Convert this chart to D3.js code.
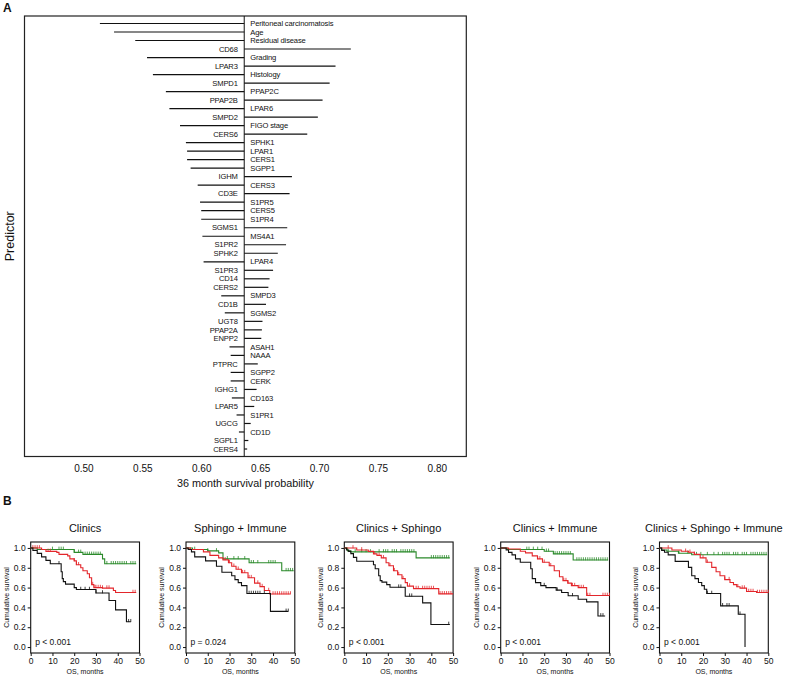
<!DOCTYPE html>
<html><head><meta charset="utf-8">
<script src="https://cdn.jsdelivr.net/npm/d3@7"></script>
<style>
body{margin:0;background:#fff;}
svg text{font-family:"Liberation Sans",Arial,Helvetica,sans-serif;fill:#111;}
</style></head><body>
<svg id="c" width="785" height="676"></svg>
<script>
// ---------- Panel A data ----------
const predictors = ["Peritoneal carcinomatosis","Age","Residual disease","CD68","Grading","LPAR3","Histology","SMPD1","PPAP2C","PPAP2B","LPAR6","SMPD2","FIGO stage","CERS6","SPHK1","LPAR1","CERS1","SGPP1","IGHM","CERS3","CD3E","S1PR5","CERS5","S1PR4","SGMS1","MS4A1","S1PR2","SPHK2","LPAR4","S1PR3","CD14","CERS2","SMPD3","CD1B","SGMS2","UGT8","PPAP2A","ENPP2","ASAH1","NAAA","PTPRC","SGPP2","CERK","IGHG1","CD163","LPAR5","S1PR1","UGCG","CD1D","SGPL1","CERS4"];
const survProb = [0.514,0.526,0.544,0.727,0.554,0.714,0.559,0.709,0.570,0.703,0.573,0.699,0.582,0.690,0.587,0.588,0.588,0.591,0.677,0.597,0.675,0.599,0.600,0.600,0.673,0.601,0.672,0.665,0.602,0.661,0.658,0.657,0.617,0.655,0.620,0.652,0.6515,0.651,0.624,0.625,0.648,0.625,0.625,0.647,0.626,0.645,0.630,0.642,0.632,0.640,0.639];
const baselineProb = 0.6365;
const xTicksA = [0.50,0.55,0.60,0.65,0.70,0.75,0.80];

// ---------- Panel B data ----------
const kmTitles = ["Clinics","Sphingo + Immune","Clinics + Sphingo","Clinics + Immune","Clinics + Sphingo + Immune"];
const pTexts = ["p < 0.001","p = 0.024","p < 0.001","p < 0.001","p < 0.001"];
const kmYTicks = [0,0.2,0.4,0.6,0.8,1.0];
const kmXTicks = [0,10,20,30,40,50];

// steps: [month, survival]; followEnd: last follow-up month; censored months
const green1 = [[0,1],[3,0.985],[20,0.955],[24,0.935],[33,0.89],[34,0.84]];
const green1End = 48.5;
const green1Cens = [10,13,14,15,20,22,23,25,26,27,28,29,30,31,32,35,37,38,39,40,41,42,43,44,46,47,48];
const red1 = [[0,1],[5,0.985],[7,0.965],[12,0.955],[13,0.935],[17,0.92],[18,0.89],[20,0.87],[21,0.83],[23,0.80],[24,0.77],[26,0.74],[27,0.70],[28,0.63],[29,0.60],[33,0.595],[38,0.57],[39,0.55]];
const red1End = 48.5;
const red1Cens = [1,2,3,4,8,9,20,21,22,28.5,29.5,30,31,32,33,35,36,47,48];
const black1 = [[0,1],[1,0.975],[3,0.945],[5,0.91],[7,0.875],[9,0.84],[14,0.76],[14.5,0.69],[15,0.66],[16,0.635],[20,0.60],[21,0.58],[30,0.545],[36,0.47],[39,0.375],[44,0.255]];
const black1End = 46;
const black1Cens = [13,23,25,27,30,33,45,46];

const green2 = [[0,1],[3,0.985],[10,0.97],[15,0.95],[17,0.89],[29,0.85],[44,0.77]];
const green2End = 49.5;
const green2Cens = [4,10,14,19,22,24,27,30,31,33,38,39,40,41,46,47,48,49];
const red2 = [[0,1],[2,0.985],[8,0.96],[11,0.925],[15,0.90],[17,0.88],[19.5,0.85],[21,0.815],[23,0.785],[25.5,0.75],[28.5,0.70],[31.5,0.645],[34,0.61],[36,0.57],[38.5,0.535]];
const red2End = 48;
const red2Cens = [18,20,22,24,26,27,29,30,33,35,38,40,41,42,43,44,45,46,47,48];
const black2 = [[0,1],[1,0.985],[2.5,0.96],[4,0.91],[9,0.87],[14,0.815],[16.5,0.755],[21,0.72],[22.5,0.68],[24,0.65],[25.5,0.62],[28,0.54],[38.8,0.36]];
const black2End = 47;
const black2Cens = [29,30,31,32,33,34,36,46,47];

const green3 = [[0,1],[1.5,0.97],[3,0.96],[33,0.90]];
const green3End = 48.5;
const green3Cens = [5,8,10,12,16,18,19,20,22,23,24,26,27,28,29,30,31,32,40,41,42,43,44,45,46,47,48];
const red3 = [[0,1],[5.7,0.98],[11,0.965],[13.4,0.94],[15,0.925],[17,0.90],[19.2,0.85],[20.5,0.82],[22.6,0.77],[24.5,0.73],[26.5,0.69],[28,0.65],[29,0.615],[31.8,0.59],[43.4,0.537]];
const red3End = 50;
const red3Cens = [4,8,14,16,18,21,23,25,27,30,33,34,36,37,38,39,40,41,44,45,46,47,48,49];
const black3 = [[0,1],[1,0.98],[2,0.965],[3,0.943],[4.2,0.905],[5.7,0.866],[13.4,0.83],[14.2,0.79],[15.8,0.72],[16.5,0.67],[17.3,0.655],[19.5,0.63],[21,0.604],[28,0.513],[36,0.446],[39.8,0.228]];
const black3End = 48.5;
const black3Cens = [25,26,30,31,48];

const green4 = [[0,1],[3,0.985],[20,0.966],[24.2,0.94],[33.3,0.878]];
const green4End = 49.4;
const green4Cens = [12,13,15,17,19,21,22,25,26,27,28,29,30,31,32,35,36,37,38,39,40,41,42,43,44,45,46,47,48,49];
const red4 = [[0,1],[3.6,0.99],[9,0.966],[11.4,0.95],[14.5,0.92],[16.9,0.89],[19.2,0.855],[22.3,0.82],[24.6,0.77],[27,0.71],[28.6,0.67],[30.8,0.645],[32.5,0.62],[35.6,0.60],[39.5,0.52]];
const red4End = 50;
const red4Cens = [17,18,20,23,29,30,31,33,34,36,37,38,40,41,47,48,49,50];
const black4 = [[0,1],[2.5,0.98],[3.6,0.955],[5.2,0.93],[6.8,0.89],[9,0.855],[13.8,0.79],[14.5,0.69],[16,0.65],[18.4,0.62],[20.8,0.60],[25.5,0.574],[28,0.55],[31,0.517],[35.6,0.483],[39.5,0.456],[44.7,0.314]];
const black4End = 48;
const black4Cens = [20,26,33,46,47];

const green5 = [[0,1],[1,0.98],[3.4,0.966],[8.7,0.946],[14.8,0.932]];
const green5End = 49.5;
const green5Cens = [4,9,13,17,19,22,25,27,29,30,31,32,34,35,36,38,39,40,42,43,44,45,46,47,48,49];
const red5 = [[0,1],[5.7,0.98],[10,0.966],[13.3,0.956],[16,0.935],[18.7,0.90],[21.4,0.855],[24,0.804],[26,0.76],[27.8,0.72],[30,0.68],[32.4,0.652],[34,0.63],[35.5,0.608],[37,0.595],[40,0.56],[44.6,0.55]];
const red5End = 50;
const red5Cens = [4,12,14,16,20,22,30,32,36,38,39,40,41,42,43,45,46,47,48,49,50];
const black5 = [[0,1],[1,0.975],[2.3,0.956],[4,0.93],[7.2,0.865],[13.3,0.804],[14.8,0.72],[16.3,0.69],[17.9,0.652],[19.4,0.62],[20.6,0.584],[21.7,0.54],[28.1,0.416],[36.2,0.331],[39.3,0]];
const black5End = 39.3;
const black5Cens = [22,24,29,31,32,37];

const kmColors = {green:"#2b8a2b", red:"#e3262b", black:"#111111"};

const kmPlots = [
  [{c:"green",s:green1,e:green1End,k:green1Cens},{c:"red",s:red1,e:red1End,k:red1Cens},{c:"black",s:black1,e:black1End,k:black1Cens}],
  [{c:"green",s:green2,e:green2End,k:green2Cens},{c:"red",s:red2,e:red2End,k:red2Cens},{c:"black",s:black2,e:black2End,k:black2Cens}],
  [{c:"green",s:green3,e:green3End,k:green3Cens},{c:"red",s:red3,e:red3End,k:red3Cens},{c:"black",s:black3,e:black3End,k:black3Cens}],
  [{c:"green",s:green4,e:green4End,k:green4Cens},{c:"red",s:red4,e:red4End,k:red4Cens},{c:"black",s:black4,e:black4End,k:black4Cens}],
  [{c:"green",s:green5,e:green5End,k:green5Cens},{c:"red",s:red5,e:red5End,k:red5Cens},{c:"black",s:black5,e:black5End,k:black5Cens}]
];

const svg = d3.select("#c");

// ---------- Panel A ----------
const A = {left:24.5,right:466.3,top:16,bottom:456.5};
const xA = d3.scaleLinear().domain([0.45,0.825]).range([A.left,A.right]);
const yA = d3.scalePoint().domain(predictors).range([A.top,A.bottom]).padding(0.88);
const x0 = xA(baselineProb);

svg.append("text").attr("x",3).attr("y",12).attr("font-size",12).attr("font-weight","bold").text("A");

svg.append("rect").attr("x",A.left).attr("y",A.top).attr("width",A.right-A.left).attr("height",A.bottom-A.top)
  .attr("fill","none").attr("stroke","#222").attr("stroke-width",1.2);
svg.append("line").attr("x1",x0).attr("x2",x0).attr("y1",A.top).attr("y2",A.bottom).attr("stroke","#111").attr("stroke-width",1);

const gA = svg.append("g");
predictors.forEach((p,i)=>{
  const v = survProb[i], y = yA(p);
  gA.append("line").attr("x1",x0).attr("x2",xA(v)).attr("y1",y).attr("y2",y).attr("stroke","#111").attr("stroke-width",1.2);
  const left = v > baselineProb; // label opposite the bar
  gA.append("text").attr("x", left ? x0-6.5 : x0+6)
    .attr("y",y).attr("dy","0.35em").attr("text-anchor", left ? "end":"start")
    .attr("font-size",7.6).attr("letter-spacing",-0.15).text(p);
});

const axA = d3.axisBottom(xA).tickValues(xTicksA).tickFormat(d3.format(".2f")).tickSize(0).tickPadding(8);
svg.append("g").attr("transform",`translate(0,${A.bottom})`).call(axA)
  .call(g=>g.select(".domain").remove())
  .call(g=>g.selectAll("text").attr("font-size",10).attr("font-family","Liberation Sans, Arial, sans-serif").attr("fill","#111"));

svg.append("text").attr("x",(A.left+A.right)/2).attr("y",487).attr("text-anchor","middle").attr("font-size",10.8).text("36 month survival probability");
svg.append("text").attr("transform",`translate(14,${(A.top+A.bottom)/2}) rotate(-90)`).attr("text-anchor","middle").attr("font-size",12.5).text("Predictor");

// ---------- Panel B ----------
svg.append("text").attr("x",3).attr("y",505).attr("font-size",12).attr("font-weight","bold").text("B");

const plotLefts = [30.7,186,344.3,500.7,659.5];
const plotW = 108.8;
const yKM = d3.scaleLinear().domain([-0.06,1.06]).range([653,542]);

function survAt(steps,t){
  let s = steps[0][1];
  for(const [tt,ss] of steps){ if(tt<=t) s=ss; }
  return s;
}

kmPlots.forEach((curves,pi)=>{
  const L = plotLefts[pi];
  const xKM = d3.scaleLinear().domain([0,50]).range([L,L+plotW]);
  const g = svg.append("g");
  g.append("text").attr("x",L+plotW/2).attr("y",532).attr("text-anchor","middle").attr("font-size",11).text(kmTitles[pi]);
  g.append("rect").attr("x",xKM(0)).attr("y",yKM(1.06)).attr("width",plotW).attr("height",yKM(-0.06)-yKM(1.06))
    .attr("fill","none").attr("stroke","#111").attr("stroke-width",1.1);
  const ay = d3.axisLeft(yKM).tickValues(kmYTicks).tickFormat(d3.format(".1f")).tickSize(3).tickPadding(2);
  g.append("g").attr("transform",`translate(${xKM(0)},0)`).call(ay)
    .call(s=>s.select(".domain").remove())
    .call(s=>s.selectAll("line").attr("stroke","#111"))
    .call(s=>s.selectAll("text").attr("font-size",8.5).attr("font-family","Liberation Sans, Arial, sans-serif").attr("fill","#111"));
  const ax = d3.axisBottom(xKM).tickValues(kmXTicks).tickSize(3).tickPadding(2);
  g.append("g").attr("transform",`translate(0,${yKM(-0.06)})`).call(ax)
    .call(s=>s.select(".domain").remove())
    .call(s=>s.selectAll("line").attr("stroke","#111"))
    .call(s=>s.selectAll("text").attr("font-size",8.5).attr("font-family","Liberation Sans, Arial, sans-serif").attr("fill","#111"));
  g.append("text").attr("transform",`translate(${L-24},${(yKM(0)+yKM(1))/2}) rotate(-90)`).attr("dy","0.35em")
    .attr("text-anchor","middle").attr("font-size",7).text("Cumulative survival");
  g.append("text").attr("x",L+plotW/2).attr("y",674).attr("text-anchor","middle").attr("font-size",7).text("OS, months");
  g.append("text").attr("x",xKM(0)+4.5).attr("y",645).attr("font-size",8.5).text(pTexts[pi]);

  const line = d3.line().x(d=>xKM(d[0])).y(d=>yKM(d[1])).curve(d3.curveStepAfter);
  curves.forEach(cv=>{
    const pts = cv.s.concat([[cv.e, cv.s[cv.s.length-1][1]]]);
    g.append("path").attr("d",line(pts)).attr("fill","none").attr("stroke",kmColors[cv.c]).attr("stroke-width",1.1);
    cv.k.forEach(t=>{
      const yy = yKM(survAt(cv.s,t));
      g.append("line").attr("x1",xKM(t)).attr("x2",xKM(t)).attr("y1",yy-2.8).attr("y2",yy+0.3)
        .attr("stroke",kmColors[cv.c]).attr("stroke-width",0.8);
    });
  });
});
</script>
</body></html>
